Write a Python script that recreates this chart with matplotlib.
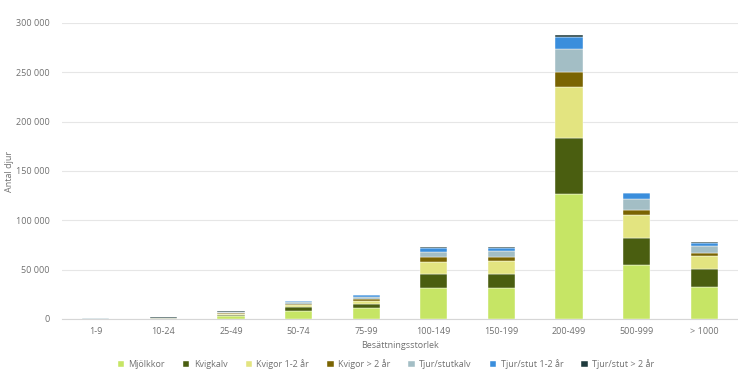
from matplotlib import pyplot as plt
from matplotlib.ticker import FuncFormatter
import numpy as np

plt.rcParams['font.family'] = ['Open Sans', 'DejaVu Sans']

groups = ['1-9', '10-24', '25-49', '50-74', '75-99', '100-149', '150-199',
          '200-499', '500-999', '> 1000']

series = ['Mjölkkor', 'Kvigkalv', 'Kvigor 1-2 år', 'Kvigor > 2 år',
          'Tjur/stutkalv', 'Tjur/stut 1-2 år', 'Tjur/stut > 2 år']

mjolkkor = [50, 500, 3000, 7800, 10800, 31700, 31700, 126400, 54700, 32700]
kvigkalv = [100, 300, 1200, 4000, 4100, 13600, 13600, 57400, 27000, 17600]
kvigor_1_2 = [100, 250, 1300, 2000, 3400, 12800, 13000, 51700, 23600, 13500]
kvigor_2 = [100, 150, 700, 1700, 1700, 4800, 4100, 14600, 5400, 2700]
tjurkalv = [300, 200, 900, 1300, 2000, 5400, 6100, 23300, 10800, 7700]
tjur_1_2 = [150, 100, 500, 1000, 2000, 3700, 3800, 12200, 5800, 3000]
tjur_2 = [50, 30, 100, 200, 300, 500, 600, 2000, 600, 500]

colors = ['#c6e565', '#4a5e10', '#e3e480', '#7a6402', '#a3bec5', '#3a8edc', '#1f3b3d']

values = [mjolkkor, kvigkalv, kvigor_1_2, kvigor_2, tjurkalv, tjur_1_2, tjur_2]

fig = plt.figure(figsize=(7.38, 3.76), dpi=100)
ax = fig.add_axes([62 / 738, 57 / 376, 676 / 738, 296 / 376])

x = np.arange(len(groups))
bottom = np.zeros(len(groups))
handles = []
for name, vals, col in zip(series, values, colors):
    vals = np.array(vals, dtype=float)
    b = ax.bar(x, vals, width=0.405, bottom=bottom, color=col, label=name,
               edgecolor='white', linewidth=0.3, zorder=3)
    handles.append(b)
    bottom += vals

ax.set_xlim(-0.5, 9.5)
ax.set_ylim(0, 300000)
ax.set_yticks(np.arange(0, 300001, 50000))
ax.yaxis.set_major_formatter(FuncFormatter(lambda v, p: f'{int(v):,}'.replace(',', ' ')))
ax.set_xticks(x)
ax.set_xticklabels(groups)

ax.grid(axis='y', color='#e6e6e6', linewidth=0.8, zorder=0)
for s in ['top', 'right', 'left']:
    ax.spines[s].set_visible(False)
ax.spines['bottom'].set_color('#d6d6d6')
ax.tick_params(axis='both', length=0, labelsize=6.5, colors='#707070')
ax.tick_params(axis='y', pad=9)
ax.tick_params(axis='x', pad=6)

ax.set_ylabel('Antal djur', fontsize=6.5, color='#707070', labelpad=1)
ax.set_xlabel('Besättningsstorlek', fontsize=6.5, color='#707070', labelpad=3)

fig.legend(handles=handles, labels=series, loc='center', ncol=7,
           bbox_to_anchor=(386 / 738, 1 - 364 / 376), frameon=False,
           fontsize=6.5, labelcolor='#707070', handlelength=0.7, handleheight=0.7,
           handletextpad=0.5, columnspacing=2.0)

fig.savefig('out.png', dpi=100)
